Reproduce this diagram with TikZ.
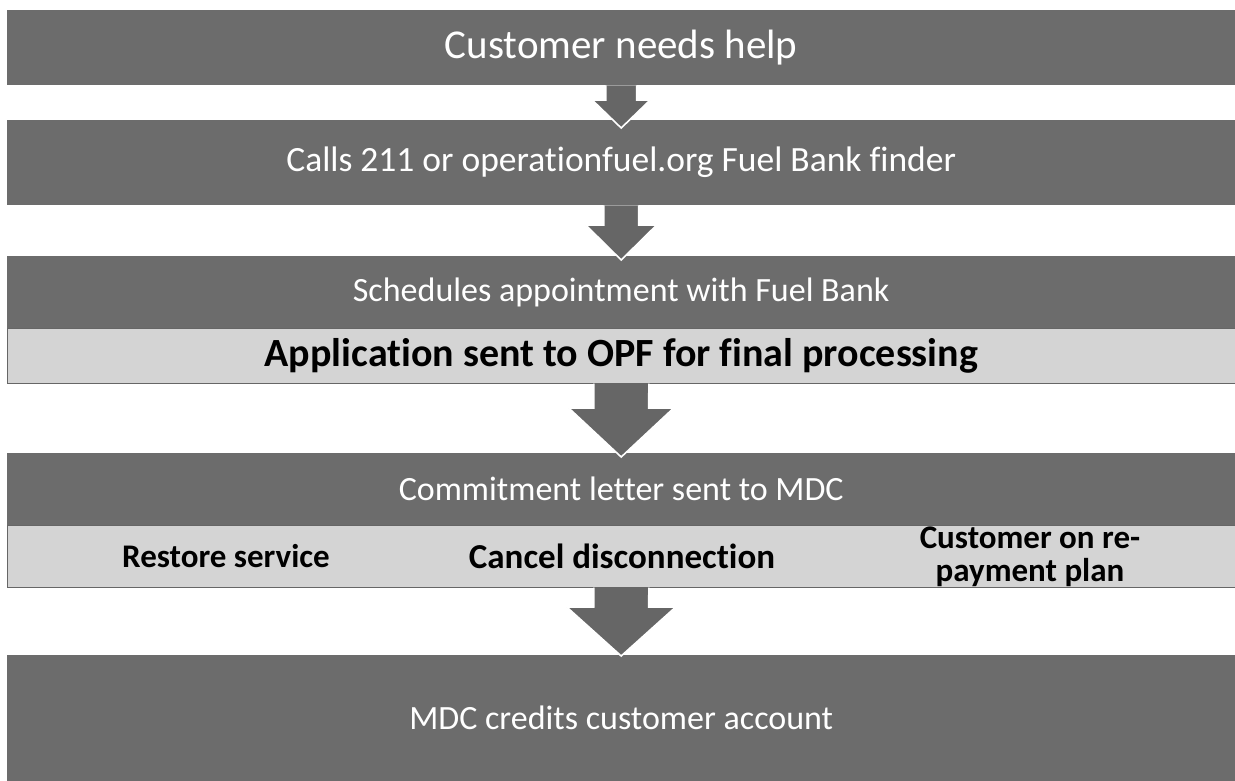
\documentclass[tikz,border=0pt]{standalone}
\usepackage{fontspec}
\setmainfont{Carlito}[Ligatures={NoCommon}]
\usetikzlibrary{calc}
\definecolor{darkbar}{HTML}{6C6C6C}
\definecolor{lightbar}{HTML}{D4D4D4}
\definecolor{arrowgray}{HTML}{666666}
\tikzset{
  darkbox/.style={fill=darkbar, draw=none, text=white, anchor=north west,
    minimum width=1228pt, inner sep=0pt, font=\fontsize{34}{40}\selectfont},
  lightbox/.style={fill=lightbar, draw=black!60, line width=0.7pt, text=black,
    anchor=north west, minimum width=1228pt, inner sep=0pt,
    font=\bfseries\fontsize{40}{46}\selectfont},
  opttext/.style={text=black, inner sep=0pt, align=center,
    font=\bfseries\fontsize{33}{33}\selectfont}
}
\newcommand\blkarrow[6]{%
  \fill[arrowgray] ($(#1.south)+(-#3,0)$) -- ($(#2.north)+(-#3,#6-#5)$)
    -- ($(#2.north)+(-#4,#6-#5)$) -- ($(#2.north)+(0,#6)$)
    -- ($(#2.north)+(#4,#6-#5)$) -- ($(#2.north)+(#3,#6-#5)$)
    -- ($(#1.south)+(#3,0)$) -- cycle;
  \draw[white, line width=1.6pt, line join=miter]
    ($(#1.south)+(-#3,0)$) -- ($(#2.north)+(-#3,#6-#5)$)
    -- ($(#2.north)+(-#4,#6-#5)$) -- ($(#2.north)+(0,#6)$)
    -- ($(#2.north)+(#4,#6-#5)$) -- ($(#2.north)+(#3,#6-#5)$)
    -- ($(#1.south)+(#3,0)$);
}
\begin{document}
\begin{tikzpicture}[x=1pt,y=-1pt]
\useasboundingbox (0,0) rectangle (1235,781);
\fill[white] (0,0) rectangle (1235,781);

\node[darkbox, minimum height=75pt, font=\fontsize{41}{46}\selectfont] (b1) at (7,10) {Customer needs help};
\node[darkbox, minimum height=85pt, font=\fontsize{35.5}{40}\selectfont] (b2) at (7,120) {Calls 211 or operationfuel.org Fuel Bank finder};
\node[darkbox, minimum height=72pt] (b3) at (7,256) {Schedules appointment with Fuel Bank};
\node[lightbox, minimum height=55pt] (l1) at (7,328) {Application sent to OPF for final processing};
\node[darkbox, minimum height=72pt] (b4) at (7,453) {Commitment letter sent to MDC};
\node[lightbox, minimum height=62pt] (l2) at (7,525) {};
\node[opttext] (o1) at (226,556) {Restore service};
\node[opttext, font=\bfseries\fontsize{35}{35}\selectfont] (o2) at (622,556) {Cancel disconnection};
\node[opttext] (o3) at (1030,557) {Customer on re-\\payment plan};
\node[darkbox, minimum height=126pt] (b5) at (7,655) {MDC credits customer account};

\blkarrow{b1}{b2}{15.5}{29}{28}{8}
\blkarrow{b2}{b3}{17.5}{35.5}{35}{4}
\blkarrow{l1}{b4}{27.5}{52.5}{49}{4}
\blkarrow{l2}{b5}{27.5}{54.5}{49}{1}
\end{tikzpicture}
\end{document}
